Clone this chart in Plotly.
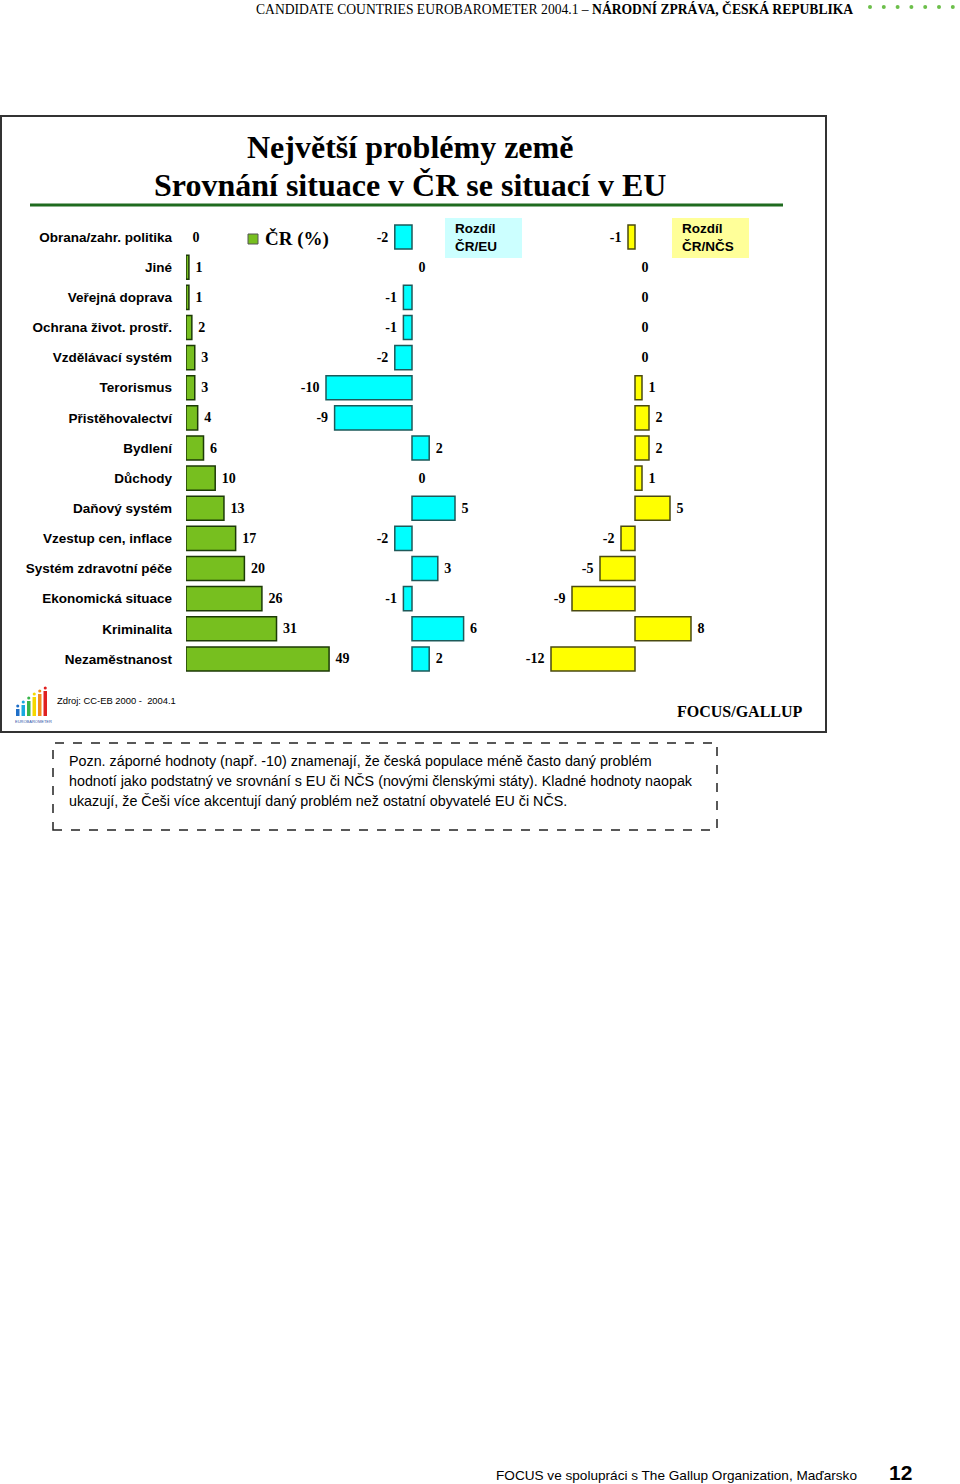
import plotly.graph_objects as go

# ---------------- data ----------------
categories = [
    "Obrana/zahr. politika", "Jiné", "Veřejná doprava", "Ochrana život. prostř.",
    "Vzdělávací systém", "Terorismus", "Přistěhovalectví", "Bydlení", "Důchody",
    "Daňový systém", "Vzestup cen, inflace", "Systém zdravotní péče",
    "Ekonomická situace", "Kriminalita", "Nezaměstnanost",
]
cz_pct = [0, 1, 1, 2, 3, 3, 4, 6, 10, 13, 17, 20, 26, 31, 49]
diff_eu = [-2, 0, -1, -1, -2, -10, -9, 2, 0, 5, -2, 3, -1, 6, 2]
diff_ncs = [-1, 0, 0, 0, 0, 1, 2, 2, 1, 5, -2, -5, -9, 8, -12]

W, H = 960, 1484


def X(px):
    return px / W


def Y(py):
    return 1 - py / H


SERIF = "Liberation Serif, Times New Roman, serif"
SANS = "Liberation Sans, Arial, sans-serif"

GREEN = "#77bf1f"
CYAN = "#00ffff"
YELLOW = "#ffff00"

fig = go.Figure()

label_font = dict(family=SERIF, size=14, color="black", weight="bold")


def add_bars(values, xaxis, color, edge, name):
    fig.add_trace(go.Bar(
        x=values, y=categories, orientation="h", xaxis=xaxis, yaxis="y",
        marker=dict(color=color,
                    line=dict(color=edge, width=[0 if v == 0 else 1.5 for v in values])),
        text=[" " + str(v) if v >= 0 else str(v) + " " for v in values],
        textposition="outside", textfont=label_font,
        cliponaxis=False, hoverinfo="skip", name=name,
    ))


add_bars(cz_pct, "x", GREEN, "#1c3a06", "ČR (%)")
add_bars(diff_eu, "x2", CYAN, "#1d5a5a", "Rozdíl ČR/EU")
add_bars(diff_ncs, "x3", YELLOW, "#4a4a10", "Rozdíl ČR/NČS")

hidden = dict(showgrid=False, zeroline=False, showticklabels=False, showline=False,
              ticks="", fixedrange=True)

fig.update_layout(
    width=W, height=H,
    margin=dict(l=0, r=0, t=0, b=0),
    paper_bgcolor="white", plot_bgcolor="rgba(0,0,0,0)",
    showlegend=False, bargap=0.2,
    xaxis=dict(domain=[X(186), X(370)], range=[0, (370 - 186) / 2.92], anchor="y", **hidden),
    xaxis2=dict(domain=[X(300), X(530)], range=[(300 - 412) / 8.6, (530 - 412) / 8.6],
                anchor="y", **hidden),
    xaxis3=dict(domain=[X(530), X(780)], range=[(530 - 635) / 7.0, (780 - 635) / 7.0],
                anchor="y", **hidden),
    yaxis=dict(domain=[Y(674), Y(222)], type="category",
               categoryorder="array", categoryarray=categories,
               range=[len(categories) - 0.5, -0.5], anchor="x",
               showgrid=False, zeroline=False, showline=False, ticks="",
               ticklabelstandoff=13,
               tickfont=dict(family=SANS, size=13.5, color="black", weight="bold"),
               fixedrange=True),
)

shapes = []
ann = []

# page header
ann.append(dict(x=X(855), y=Y(9), xref="paper", yref="paper", xanchor="right", yanchor="middle",
                showarrow=False,
                text="CANDIDATE COUNTRIES EUROBAROMETER 2004.1 – <b>NÁRODNÍ ZPRÁVA, ČESKÁ REPUBLIKA</b>",
                font=dict(family=SERIF, size=13.6, color="black")))
for i in range(7):
    cx = 870 + i * 13.8
    shapes.append(dict(type="circle", xref="paper", yref="paper",
                       x0=X(cx - 2), x1=X(cx + 2), y0=Y(9), y1=Y(5),
                       fillcolor="#6cbf4a", line=dict(width=0)))

# chart frame
shapes.append(dict(type="rect", xref="paper", yref="paper", x0=X(1), x1=X(826), y0=Y(732), y1=Y(116),
                   line=dict(color="#333333", width=2), fillcolor="rgba(0,0,0,0)", layer="below"))

# title
ann.append(dict(x=X(410), y=Y(147), xref="paper", yref="paper", xanchor="center", yanchor="middle",
                showarrow=False, text="Největší problémy země",
                font=dict(family=SERIF, size=32, color="black", weight="bold")))
ann.append(dict(x=X(410), y=Y(185), xref="paper", yref="paper", xanchor="center", yanchor="middle",
                showarrow=False, text="Srovnání situace v ČR se situací v EU",
                font=dict(family=SERIF, size=32, color="black", weight="bold")))
shapes.append(dict(type="line", xref="paper", yref="paper", x0=X(30), x1=X(783), y0=Y(205), y1=Y(205),
                   line=dict(color="#1f6b1f", width=3)))

# legend for CR (%)
shapes.append(dict(type="rect", xref="paper", yref="paper", x0=X(248), x1=X(258), y0=Y(244), y1=Y(234),
                   fillcolor=GREEN, line=dict(color="#555555", width=1)))
ann.append(dict(x=X(263), y=Y(239), xref="paper", yref="paper", xanchor="left", yanchor="middle",
                showarrow=False, text="ČR (%)",
                font=dict(family=SERIF, size=19, color="black", weight="bold")))

# Rozdil boxes
shapes.append(dict(type="rect", xref="paper", yref="paper", x0=X(445), x1=X(522), y0=Y(258), y1=Y(218),
                   fillcolor="#ccffff", line=dict(width=0), layer="below"))
ann.append(dict(x=X(453), y=Y(238), xref="paper", yref="paper", xanchor="left", yanchor="middle",
                showarrow=False, align="left", text="Rozdíl<br>ČR/EU",
                font=dict(family=SANS, size=13.5, color="black", weight="bold")))
shapes.append(dict(type="rect", xref="paper", yref="paper", x0=X(672), x1=X(749), y0=Y(258), y1=Y(218),
                   fillcolor="#ffff99", line=dict(width=0), layer="below"))
ann.append(dict(x=X(680), y=Y(238), xref="paper", yref="paper", xanchor="left", yanchor="middle",
                showarrow=False, align="left", text="Rozdíl<br>ČR/NČS",
                font=dict(family=SANS, size=13.5, color="black", weight="bold")))

# logo (eurobarometer)
logo_cols = ["#1f6fc8", "#19a9e0", "#39b54a", "#f5d800", "#f28c1c", "#e02020"]
logo_h = [10, 14, 18, 22, 25, 28]
for i, (c, h) in enumerate(zip(logo_cols, logo_h)):
    x0 = 16 + i * 5.5
    shapes.append(dict(type="rect", xref="paper", yref="paper", x0=X(x0), x1=X(x0 + 3.5),
                       y0=Y(716), y1=Y(716 - h + 3), fillcolor=c, line=dict(width=0)))
    shapes.append(dict(type="circle", xref="paper", yref="paper", x0=X(x0 + 0.2), x1=X(x0 + 3.3),
                       y0=Y(716 - h + 1.5), y1=Y(716 - h - 1.5), fillcolor=c, line=dict(width=0)))
ann.append(dict(x=X(33), y=Y(721), xref="paper", yref="paper", xanchor="center", yanchor="middle",
                showarrow=False, text="EUROBAROMETER",
                font=dict(family=SANS, size=4, color="#3355aa")))

ann.append(dict(x=X(55), y=Y(700), xref="paper", yref="paper", xanchor="left", yanchor="middle",
                showarrow=False, text="Zdroj: CC-EB 2000 -  2004.1",
                font=dict(family=SANS, size=9.4, color="black")))
ann.append(dict(x=X(805), y=Y(711), xref="paper", yref="paper", xanchor="right", yanchor="middle",
                showarrow=False, text="FOCUS/GALLUP",
                font=dict(family=SERIF, size=16, color="black", weight="bold")))

# note box
shapes.append(dict(type="rect", xref="paper", yref="paper", x0=X(53), x1=X(717), y0=Y(830), y1=Y(743),
                   line=dict(color="#222222", width=1.5, dash="dash"), fillcolor="rgba(0,0,0,0)"))
note_lines = [
    "Pozn. záporné hodnoty (např. -10) znamenají, že česká populace méně často daný problém",
    "hodnotí jako podstatný ve srovnání s EU či NČS (novými členskými státy). Kladné hodnoty naopak",
    "ukazují, že Češi více akcentují daný problém než ostatní obyvatelé EU či NČS.",
]
for i, line in enumerate(note_lines):
    ann.append(dict(x=X(67), y=Y(761 + i * 20), xref="paper", yref="paper", xanchor="left",
                    yanchor="middle", showarrow=False, text=line,
                    font=dict(family=SANS, size=14.3, color="black")))

# page footer
ann.append(dict(x=X(494), y=Y(1475), xref="paper", yref="paper", xanchor="left", yanchor="middle",
                showarrow=False, text="FOCUS ve spolupráci s The Gallup Organization, Maďarsko",
                font=dict(family=SANS, size=13.6, color="black")))
ann.append(dict(x=X(887), y=Y(1472), xref="paper", yref="paper", xanchor="left", yanchor="middle",
                showarrow=False, text="12",
                font=dict(family=SANS, size=21, color="black", weight="bold")))

fig.update_layout(shapes=shapes, annotations=ann)
fig.write_html("out.html")
